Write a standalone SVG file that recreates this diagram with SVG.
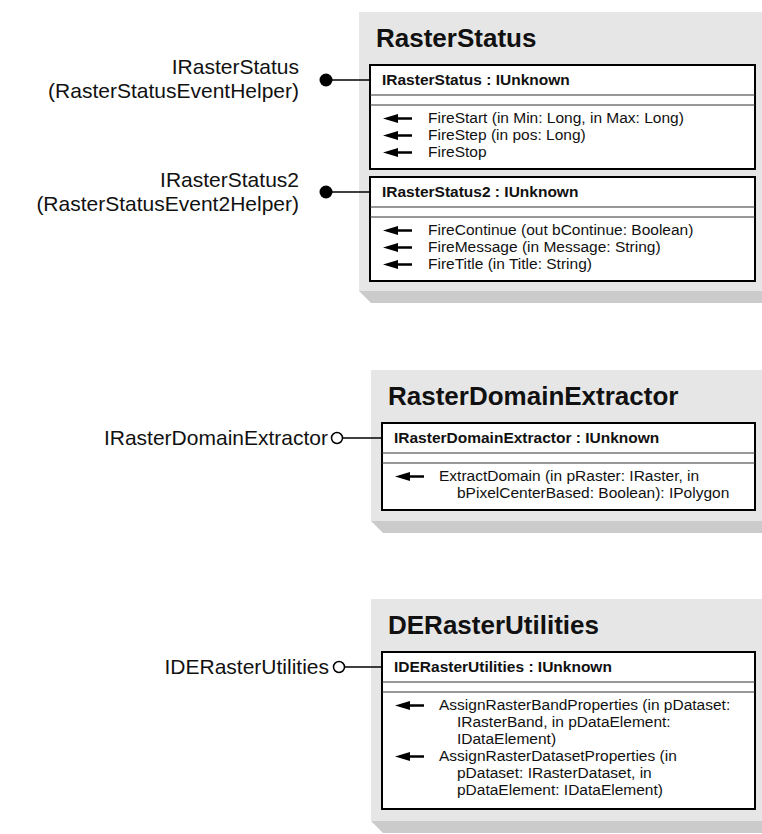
<svg xmlns="http://www.w3.org/2000/svg" xmlns:xlink="http://www.w3.org/1999/xlink" width="762" height="834" viewBox="0 0 762 834">
<style>
.panel{fill:#e6e6e6}
.shadow{fill:#cbcbcb}
.box{fill:#ffffff;stroke:#000000;stroke-width:2}
.sep{stroke:#333333;stroke-width:1}
.title{font-family:"Liberation Sans",Arial,sans-serif;font-weight:bold;font-size:26px;fill:#111}
.hdr{font-family:"Liberation Sans",Arial,sans-serif;font-weight:bold;font-size:15.5px;fill:#111}
.m{font-family:"Liberation Sans",Arial,sans-serif;font-size:15.5px;fill:#111}
.lbl{font-family:"Liberation Sans",Arial,sans-serif;font-size:21px;fill:#111;text-anchor:end}
.conn{stroke:#000;stroke-width:1.5;fill:none}
</style>
<defs>
<g id="arr"><path d="M0,0 L15,-4.5 L15,4.5 Z" fill="#000"/><rect x="14" y="-1.25" width="15" height="2.5" fill="#000"/></g>
</defs>

<g id="RasterStatus">
<polygon class="shadow" points="359,291 371,303 762,303 762,291"/>
<rect class="panel" x="359" y="12" width="403" height="279"/>
<text class="title" x="376" y="47">RasterStatus</text>
<rect class="box" x="370" y="65" width="385" height="104"/>
<line class="sep" x1="370" y1="95" x2="755" y2="95"/>
<line class="sep" x1="370" y1="105" x2="755" y2="105"/>
<text class="hdr" x="382" y="85">IRasterStatus : IUnknown</text>
<use xlink:href="#arr" x="383" y="118.5"/>
<text class="m" x="428" y="123">FireStart (in Min: Long, in Max: Long)</text>
<use xlink:href="#arr" x="383" y="135.5"/>
<text class="m" x="428" y="140">FireStep (in pos: Long)</text>
<use xlink:href="#arr" x="383" y="152.5"/>
<text class="m" x="428" y="157">FireStop</text>
<rect class="box" x="370" y="177" width="385" height="104"/>
<line class="sep" x1="370" y1="207" x2="755" y2="207"/>
<line class="sep" x1="370" y1="217" x2="755" y2="217"/>
<text class="hdr" x="382" y="197">IRasterStatus2 : IUnknown</text>
<use xlink:href="#arr" x="383" y="230.5"/>
<text class="m" x="428" y="235">FireContinue (out bContinue: Boolean)</text>
<use xlink:href="#arr" x="383" y="247.5"/>
<text class="m" x="428" y="252">FireMessage (in Message: String)</text>
<use xlink:href="#arr" x="383" y="264.5"/>
<text class="m" x="428" y="269">FireTitle (in Title: String)</text>
</g>

<g id="RasterDomainExtractor">
<polygon class="shadow" points="371,521 383,533 762,533 762,521"/>
<rect class="panel" x="371" y="370" width="391" height="151"/>
<text class="title" x="388" y="405">RasterDomainExtractor</text>
<rect class="box" x="382" y="423" width="373" height="87"/>
<line class="sep" x1="382" y1="453" x2="755" y2="453"/>
<line class="sep" x1="382" y1="463" x2="755" y2="463"/>
<text class="hdr" x="394" y="443">IRasterDomainExtractor : IUnknown</text>
<use xlink:href="#arr" x="395" y="476.5"/>
<text class="m" x="439" y="481">ExtractDomain (in pRaster: IRaster, in</text>
<text class="m" x="457" y="498">bPixelCenterBased: Boolean): IPolygon</text>
</g>

<g id="DERasterUtilities">
<polygon class="shadow" points="371,821 383,833 762,833 762,821"/>
<rect class="panel" x="371" y="599" width="391" height="222"/>
<text class="title" x="388" y="634">DERasterUtilities</text>
<rect class="box" x="382" y="652" width="373" height="157"/>
<line class="sep" x1="382" y1="682" x2="755" y2="682"/>
<line class="sep" x1="382" y1="692" x2="755" y2="692"/>
<text class="hdr" x="394" y="672">IDERasterUtilities : IUnknown</text>
<use xlink:href="#arr" x="395" y="705.5"/>
<text class="m" x="439" y="710">AssignRasterBandProperties (in pDataset:</text>
<text class="m" x="457" y="727">IRasterBand, in pDataElement:</text>
<text class="m" x="457" y="744">IDataElement)</text>
<use xlink:href="#arr" x="395" y="756.5"/>
<text class="m" x="439" y="761">AssignRasterDatasetProperties (in</text>
<text class="m" x="457" y="778">pDataset: IRasterDataset, in</text>
<text class="m" x="457" y="795">pDataElement: IDataElement)</text>
</g>

<g id="lbl-IRasterStatus">
<text class="lbl" x="299" y="74">IRasterStatus</text>
<text class="lbl" x="299" y="98">(RasterStatusEventHelper)</text>
</g>
<g id="lbl-IRasterStatus2">
<text class="lbl" x="299" y="187">IRasterStatus2</text>
<text class="lbl" x="299" y="211">(RasterStatusEvent2Helper)</text>
</g>
<g id="lbl-IRasterDomainExtractor">
<text class="lbl" x="328" y="445">IRasterDomainExtractor</text>
</g>
<g id="lbl-IDERasterUtilities">
<text class="lbl" x="329" y="674">IDERasterUtilities</text>
</g>

<g id="connectors">
<circle cx="326" cy="80" r="6.5" fill="#000"/>
<line class="conn" x1="332" y1="80" x2="370" y2="80"/>
<circle cx="326" cy="192" r="6.5" fill="#000"/>
<line class="conn" x1="332" y1="192" x2="370" y2="192"/>
<circle cx="337" cy="438" r="5.5" fill="#fff" stroke="#000" stroke-width="1.5"/>
<line class="conn" x1="342.5" y1="438" x2="382" y2="438"/>
<circle cx="339" cy="667" r="5.5" fill="#fff" stroke="#000" stroke-width="1.5"/>
<line class="conn" x1="344.5" y1="667" x2="382" y2="667"/>
</g>
</svg>
